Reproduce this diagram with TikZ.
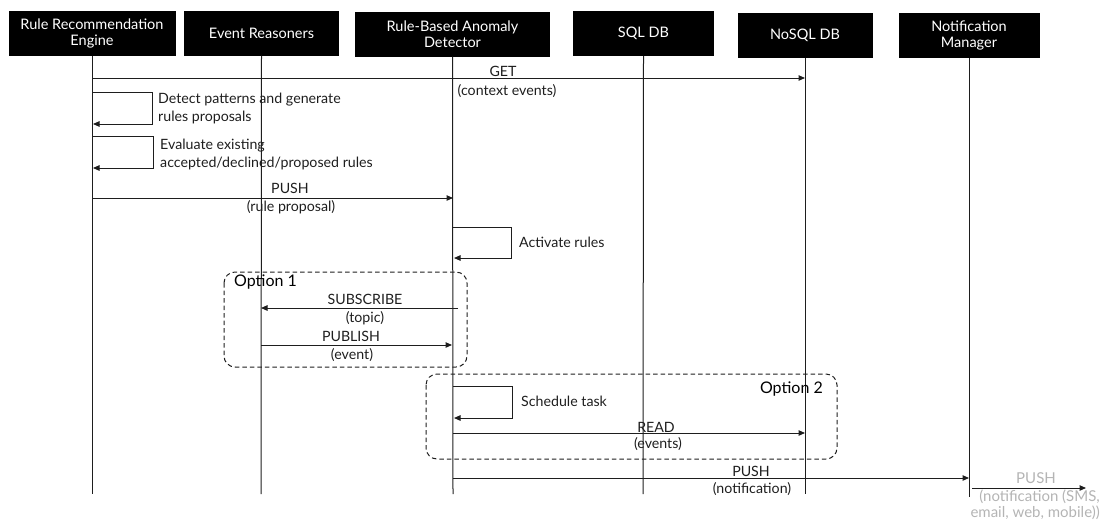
\documentclass[tikz,border=0pt]{standalone}
\usepackage{fontspec}
\setmainfont{Lato}
\usetikzlibrary{arrows.meta}
\definecolor{ink}{HTML}{1E1E1E}
\definecolor{faded}{HTML}{B4B4B4}
\begin{document}
\begin{tikzpicture}[x=1pt,y=-1pt,
  actor/.style={fill=black,text=white,minimum height=45pt,inner sep=0pt,align=center,
                font=\fontsize{14.5}{16}\selectfont},
  life/.style={line width=1pt,draw=ink},
  msg/.style={line width=1pt,draw=ink,-{Triangle[length=6.5pt,width=5.5pt]}},
  lbl/.style={font=\fontsize{14.2}{18}\selectfont,text=ink,inner sep=0pt},
  note/.style={lbl,anchor=west,align=left},
  outlbl/.style={font=\fontsize{15}{16}\selectfont,text=faded,inner sep=0pt},
  optbox/.style={draw=ink,line width=1pt,dash pattern=on 4.5pt off 3pt,rounded corners=11pt},
  opttitle/.style={font=\fontsize{16}{18}\selectfont,text=black,inner sep=0pt}]

\useasboundingbox (0,0) rectangle (1100,523);

% participants
\node[actor,minimum width=167pt] (rre) at (92,33.5)    {Rule Recommendation\\Engine};
\node[actor,minimum width=155pt] (er)  at (261.5,33)   {Event Reasoners};
\node[actor,minimum width=195pt] (rad) at (452.5,34)   {Rule-Based Anomaly\\Detector};
\node[actor,minimum width=141pt] (sql) at (643.5,33.5) {SQL DB};
\node[actor,minimum width=135pt] (nos) at (805,35)     {NoSQL DB};
\node[actor,minimum width=141pt] (nm)  at (969,35)     {Notification\\Manager};

% lifelines
\coordinate (rre-end) at (92,494);
\coordinate (er-end)  at (261,494);
\coordinate (rad-end) at (453,494);
\coordinate (sql-end) at (643,494);
\coordinate (nos-end) at (805,494);
\coordinate (nm-end)  at (969,497);
\draw[life] (rre.south) -- (rre-end);
\draw[life] (er.south)  -- (er-end);
\draw[life] (rad.south) -- (rad-end);
\draw[life] (sql.south) -- (sql-end);
\draw[life] (nos.south) -- (nos-end);
\draw[life] (nm.south)  -- (nm-end);

% GET (context events)
\coordinate (get-a) at (92,78);
\coordinate (get-b) at (805,78);
\draw[msg] (get-a) -- (get-b);
\node[lbl] (get-t) at (503,71) {GET};
\node[lbl] (get-s) at (507,91) {(context events)};

% self call: detect patterns
\coordinate (dp-a) at (92,92);
\coordinate (dp-b) at (93,124);
\draw[msg] (dp-a) -- (152,92) -- (152,124) -- (dp-b);
\node[note] (dp-t) at (158,108) {Detect patterns and generate\\rules proposals};

% self call: evaluate rules
\coordinate (ev-a) at (92,136);
\coordinate (ev-b) at (93,168);
\draw[msg] (ev-a) -- (153,136) -- (153,168) -- (ev-b);
\node[note] (ev-t) at (160,154) {Evaluate existing\\accepted/declined/proposed rules};

% PUSH rule proposal
\coordinate (pp-a) at (92,198);
\coordinate (pp-b) at (453,198);
\draw[msg] (pp-a) -- (pp-b);
\node[lbl] (pp-t) at (290,188) {PUSH};
\node[lbl] (pp-s) at (291,207) {(rule proposal)};

% self call: activate rules
\coordinate (ar-a) at (453,227);
\coordinate (ar-b) at (454,258);
\draw[msg] (ar-a) -- (511,227) -- (511,258) -- (ar-b);
\node[note] (ar-t) at (519,242) {Activate rules};

% Option 1
\draw[optbox] (224,272) rectangle (467,367);
\node[opttitle,anchor=west] (o1) at (234,282) {Option 1};
\coordinate (sub-a) at (458,308);
\coordinate (sub-b) at (261,308);
\draw[msg] (sub-a) -- (sub-b);
\node[lbl] (sub-t) at (365,299) {SUBSCRIBE};
\node[lbl] (sub-s) at (365,318) {(topic)};
\coordinate (pub-a) at (261,345);
\coordinate (pub-b) at (452,345);
\draw[msg] (pub-a) -- (pub-b);
\node[lbl] (pub-t) at (351,336) {PUBLISH};
\node[lbl] (pub-s) at (352,355) {(event)};

% Option 2
\draw[optbox] (426,374) rectangle (837,459);
\node[opttitle,anchor=east] (o2) at (823,389) {Option 2};
\coordinate (st-a) at (453,386);
\coordinate (st-b) at (454,418);
\draw[msg] (st-a) -- (512,386) -- (512,418) -- (st-b);
\node[note] (st-t) at (521,401) {Schedule task};
\coordinate (rd-a) at (453,433);
\coordinate (rd-b) at (805,433);
\draw[msg] (rd-a) -- (rd-b);
\node[lbl] (rd-t) at (656,427) {READ};
\node[lbl] (rd-s) at (658,444) {(events)};

% PUSH notification
\coordinate (pn-a) at (453,478);
\coordinate (pn-b) at (969,478);
\draw[msg] (pn-a) -- (pn-b);
\node[lbl] (pn-t) at (751,471) {PUSH};
\node[lbl] (pn-s) at (752,489) {(notification)};

% outgoing notification
\coordinate (out-a) at (972,488);
\coordinate (out-b) at (1086,488);
\draw[msg] (out-a) -- (out-b);
\node[outlbl] (out-t) at (1036,478) {PUSH};
\node[outlbl,align=right,anchor=north east] (out-s) at (1100,490)
  {(notification (SMS,\\email, web, mobile))};
\end{tikzpicture}
\end{document}
